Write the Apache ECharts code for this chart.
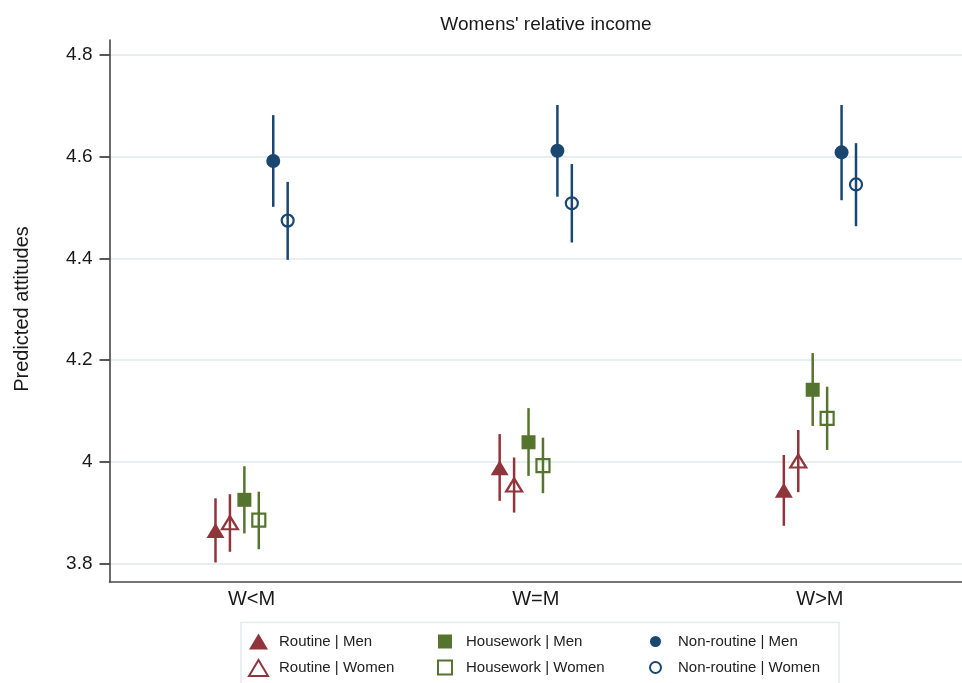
<!DOCTYPE html>
<html>
<head>
<meta charset="utf-8">
<script src="https://cdn.jsdelivr.net/npm/echarts@6/dist/echarts.min.js"></script>
<style>
html,body{margin:0;padding:0;background:#fff;}
#chart{width:962px;height:683px;}
</style>
</head>
<body>
<div id="chart"></div>
<script>
// ---- data ----
const categories = ['W<M', 'W=M', 'W>M'];
const groups = ['Routine | Men', 'Routine | Women', 'Housework | Men', 'Housework | Women', 'Non-routine | Men', 'Non-routine | Women'];
const yTicks = [3.8, 4, 4.2, 4.4, 4.6, 4.8];

const routineMenEst   = [3.866, 3.989, 3.945];
const routineMenLo    = [3.803, 3.924, 3.875];
const routineMenHi    = [3.929, 4.055, 4.014];
const routineWomenEst = [3.881, 3.955, 4.002];
const routineWomenLo  = [3.824, 3.901, 3.941];
const routineWomenHi  = [3.937, 4.009, 4.063];
const houseMenEst     = [3.926, 4.039, 4.142];
const houseMenLo      = [3.860, 3.973, 4.071];
const houseMenHi      = [3.992, 4.106, 4.214];
const houseWomenEst   = [3.886, 3.993, 4.086];
const houseWomenLo    = [3.829, 3.939, 4.024];
const houseWomenHi    = [3.942, 4.048, 4.148];
const nonRoutMenEst   = [4.591, 4.611, 4.608];
const nonRoutMenLo    = [4.501, 4.521, 4.514];
const nonRoutMenHi    = [4.681, 4.701, 4.701];
const nonRoutWomenEst = [4.474, 4.508, 4.545];
const nonRoutWomenLo  = [4.397, 4.431, 4.463];
const nonRoutWomenHi  = [4.550, 4.585, 4.626];

const estimates = [routineMenEst, routineWomenEst, houseMenEst, houseWomenEst, nonRoutMenEst, nonRoutWomenEst];
const lows = [routineMenLo, routineWomenLo, houseMenLo, houseWomenLo, nonRoutMenLo, nonRoutWomenLo];
const highs = [routineMenHi, routineWomenHi, houseMenHi, houseWomenHi, nonRoutMenHi, nonRoutWomenHi];

// ---- styles ----
const MAROON = '#90353B', GREEN = '#55752F', NAVY = '#1A476F';
const colors = [MAROON, MAROON, GREEN, GREEN, NAVY, NAVY];
const hollow = [false, true, false, true, false, true];
const symbols = ['triangle', 'triangle', 'rect', 'rect', 'circle', 'circle'];
const symbolSizes = [[18, 15], [16, 13], [14, 14], [13, 13], [14, 14], [12, 12]];
const dodge = 0.0508;
const FONT = 'Liberation Sans, Arial, sans-serif';

const series = [];
groups.forEach((g, i) => {
  const off = (i - 2.5) * dodge;
  const ciData = categories.map((c, k) => [k + 1 + off, lows[i][k], highs[i][k]]);
  const ptData = categories.map((c, k) => [k + 1 + off, estimates[i][k]]);
  series.push({
    type: 'custom',
    name: 'ci_' + i,
    z: 2,
    silent: true,
    data: ciData,
    encode: { x: 0, y: [1, 2] },
    renderItem: (params, api) => {
      const p1 = api.coord([api.value(0), api.value(1)]);
      const p2 = api.coord([api.value(0), api.value(2)]);
      return { type: 'line', shape: { x1: p1[0], y1: p1[1], x2: p2[0], y2: p2[1] },
               style: { stroke: colors[i], lineWidth: 2.5 } };
    }
  });
  series.push({
    type: 'scatter',
    name: g,
    z: 3,
    symbol: symbols[i],
    symbolSize: symbolSizes[i],
    data: ptData,
    itemStyle: hollow[i]
      ? { color: 'rgba(0,0,0,0)', borderColor: colors[i], borderWidth: 2.2, opacity: 1 }
      : { color: colors[i], borderWidth: 0, opacity: 1 },
    emphasis: { disabled: true }
  });
});

const legendText = { fontSize: 15, color: '#222', fontFamily: FONT, lineHeight: 17 };
const legendBase = { orient: 'vertical', top: 633, height: 80, padding: 0, itemGap: 9, selectedMode: false };
const chart = echarts.init(document.getElementById('chart'), null, { renderer: 'canvas' });
chart.setOption({
  animation: false,
  backgroundColor: '#fff',
  title: {
    text: "Womens' relative income",
    left: 541, top: 10, textAlign: 'center',
    textStyle: { fontSize: 19, fontWeight: 'normal', color: '#1a1a1a', fontFamily: FONT }
  },
  graphic: [
    { type: 'text', x: 22, y: 309, rotation: Math.PI / 2,
      style: { text: 'Predicted attitudes', fontSize: 20, fill: '#1a1a1a', fontFamily: FONT,
               align: 'center', verticalAlign: 'middle' } },
    { type: 'rect', shape: { x: 241, y: 622.5, width: 598, height: 80 },
      style: { fill: 'none', stroke: '#E3ECEE', lineWidth: 1.5 }, z: -1 }
  ],
  grid: { left: 109.5, right: -10, top: 40, bottom: 101, containLabel: false },
  xAxis: {
    type: 'value', min: 0.5, max: 3.5, interval: 0.5,
    axisLine: { show: true, lineStyle: { color: '#4a4a4a', width: 1.5 } },
    axisTick: { show: false },
    splitLine: { show: false },
    axisLabel: {
      fontSize: 20, color: '#1a1a1a', fontFamily: FONT, margin: 7,
      showMinLabel: false, showMaxLabel: false,
      formatter: v => (Math.abs(v - Math.round(v)) < 1e-6 && v >= 1 && v <= categories.length) ? categories[Math.round(v) - 1] : ''
    }
  },
  yAxis: {
    type: 'value', min: 3.7647, max: 4.8285,
    axisLine: { show: true, lineStyle: { color: '#3a3a3a', width: 1.5 } },
    axisTick: { show: true, length: 10, customValues: yTicks, lineStyle: { color: '#222', width: 1.5 } },
    axisLabel: { fontSize: 19, color: '#1a1a1a', fontFamily: FONT, margin: 17, customValues: yTicks },
    splitLine: { show: true, lineStyle: { color: '#E6EEF0', width: 2 } }
  },
  legend: [
    Object.assign({}, legendBase, { left: 248, itemWidth: 19, itemHeight: 16,
      data: [groups[0], groups[1]], textStyle: Object.assign({ padding: [0, 0, 0, 6] }, legendText) }),
    Object.assign({}, legendBase, { left: 437, itemWidth: 14, itemHeight: 14,
      data: [groups[2], groups[3]], textStyle: Object.assign({ padding: [0, 0, 0, 9] }, legendText) }),
    Object.assign({}, legendBase, { left: 649, itemWidth: 11, itemHeight: 11,
      data: [groups[4], groups[5]], textStyle: Object.assign({ padding: [0, 0, 0, 12] }, legendText) })
  ],
  series: series
});
</script>
</body>
</html>
